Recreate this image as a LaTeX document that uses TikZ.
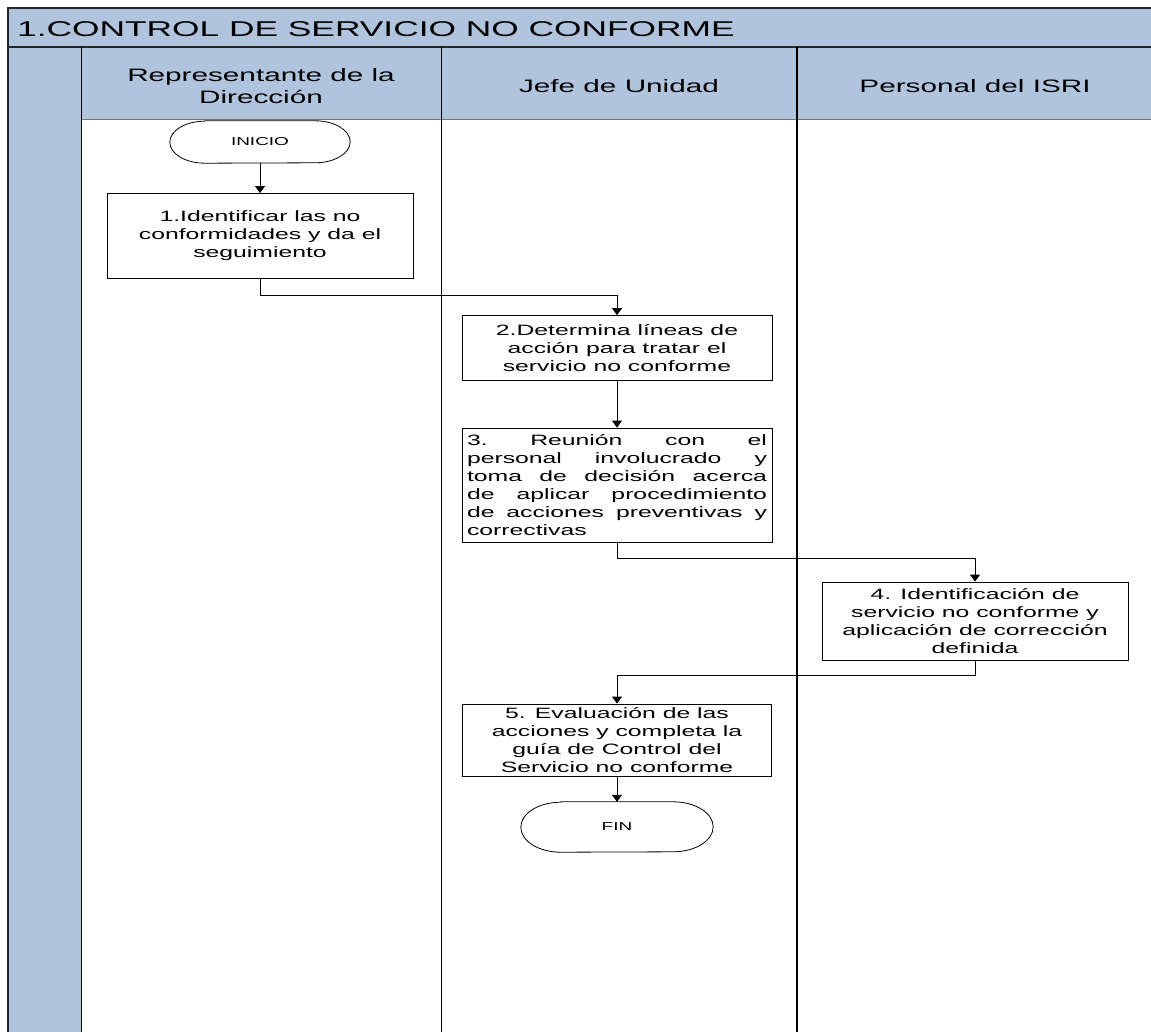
\documentclass[tikz,border=0pt]{standalone}
\usepackage{fontspec}
\setmainfont{Liberation Sans}[FakeStretch=1.65]
\usepackage{tikz}
\usetikzlibrary{arrows.meta,positioning}
\definecolor{carril}{HTML}{B0C4DE}
% justified line of the third step
\newcommand{\jline}[1]{{\spaceskip=0.3em plus 1fil\xspaceskip=\spaceskip
  \makebox[300pt][s]{#1}}}

\begin{document}
\begin{tikzpicture}[x=1pt, y=-1pt,
      >={Triangle[length=7pt, width=10pt]},
      paso/.style={draw, line width=0.8pt, fill=white, minimum width=306pt,
                   align=center, inner sep=3pt, font=\fontsize{15}{18}\selectfont},
      extremo/.style={minimum width=180pt, minimum height=42pt,
                      font=\fontsize{11.5}{13}\selectfont},
      encabezado/.style={align=center, font=\fontsize{18}{22}\selectfont},
      flujo/.style={->, line width=0.9pt},
      borde/.style={line width=1.2pt, black!85},
    ]
    \useasboundingbox (0,0) rectangle (1151,1032);
    \clip (0,0) rectangle (1151,1032);
    \fill[white] (0,0) rectangle (1151,1032);

    % title band, lane headers and left strip
    \fill[carril] (8,8) rectangle (1160,119);
    \fill[carril] (8,119) rectangle (81,1040);
    \draw[borde] (8,1040) -- (8,8) -- (1160,8);
    \draw[borde] (8,47) -- (1160,47);
    \draw[line width=0.8pt, black!55] (81,119) -- (1160,119);
    \draw[line width=1pt] (81,47) -- (81,1040);
    \draw[line width=1pt] (441,47) -- (441,1040);
    \draw[line width=1.3pt] (797,47) -- (797,1040);

    \node[anchor=west, inner sep=0pt, font=\fontsize{21.4}{25}\selectfont] (titulo) at (17,29)
      {1.CONTROL DE SERVICIO NO CONFORME};
    \node[encabezado] (rep) at (261,86) {Representante de la\\Dirección};
    \node[encabezado] (jefe) at (619,86) {Jefe de Unidad};
    \node[encabezado] (pers) at (975,86) {Personal del ISRI};

    % steps
    \node[extremo, minimum height=42pt] (inicio) at (260,142) {INICIO};
    \node[paso, minimum height=85pt] (act1) at (260,236)
      {1.Identificar las no\\conformidades y da el\\seguimiento};
    \node[paso, minimum width=310pt, minimum height=65pt] (act2) at (617,348)
      {2.Determina líneas de\\acción para tratar el\\servicio no conforme};
    \node[paso, text width=300pt, align=left, inner xsep=5pt, inner ysep=2pt,
          minimum height=114pt] (act3) at (617,485)
      {\jline{3. Reunión con el}\\\jline{personal involucrado y}\\
       \jline{toma de decisión acerca}\\\jline{de aplicar procedimiento}\\
       \jline{de acciones preventivas y}\\correctivas};
    \node[paso, minimum height=78pt, inner ysep=1pt] (act4) at (975,621)
      {4. Identificación de\\servicio no conforme y\\aplicación de corrección\\definida};
    \node[paso, minimum width=309pt, minimum height=72pt, inner ysep=0pt] (act5) at (617,740)
      {5. Evaluación de las\\acciones y completa la\\guía de Control del\\Servicio no conforme};
    \node[extremo, minimum width=192pt, minimum height=50pt] (fin) at (617,827) {FIN};

    % stadium outlines of the terminals
    \draw[line width=0.8pt] ([xshift=35pt]inicio.north west) -- ([xshift=-35pt]inicio.north east)
      arc[start angle=90, end angle=-90, x radius=35pt, y radius=21pt]
      -- ([xshift=35pt]inicio.south west)
      arc[start angle=270, end angle=90, x radius=35pt, y radius=21pt] -- cycle;
    \draw[line width=0.8pt] ([xshift=40pt]fin.north west) -- ([xshift=-40pt]fin.north east)
      arc[start angle=90, end angle=-90, x radius=40pt, y radius=25pt]
      -- ([xshift=40pt]fin.south west)
      arc[start angle=270, end angle=90, x radius=40pt, y radius=25pt] -- cycle;

    % connectors
    \draw[flujo] (inicio) -- (act1);
    \draw[flujo] (act1.south) -- ++(0,17) -| (act2.north);
    \draw[flujo] (act2) -- (act3);
    \draw[flujo] (act3.south) -- ++(0,16) -| (act4.north);
    \draw[flujo] (act4.south) -- ++(0,15) -| (act5.north);
    \draw[flujo] (act5) -- (fin);
  \end{tikzpicture}
\end{document}
